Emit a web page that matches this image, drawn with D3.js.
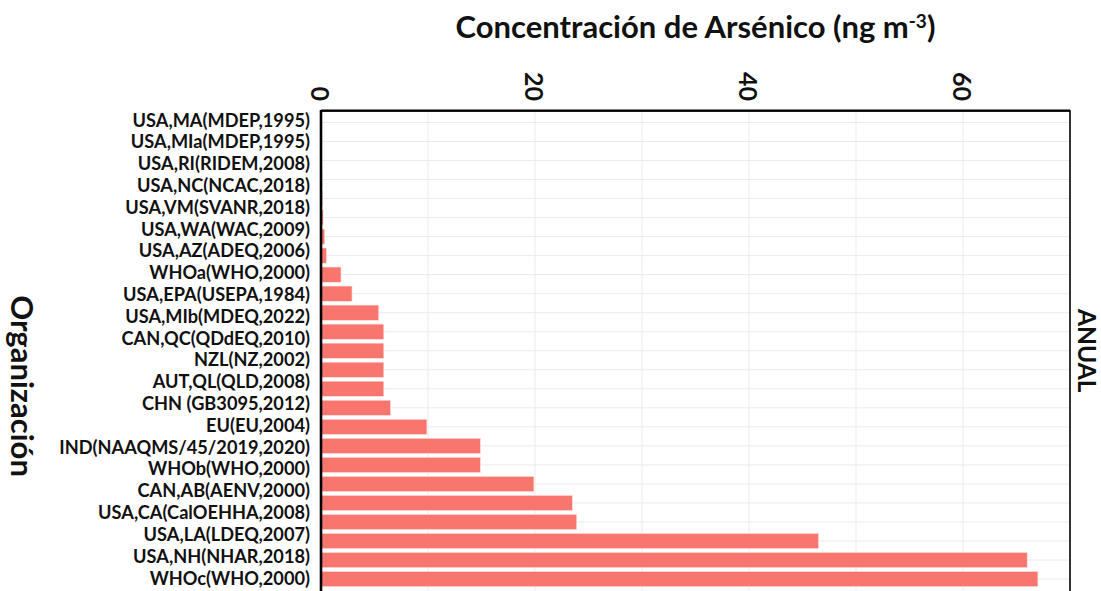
<!DOCTYPE html>
<html>
<head>
<meta charset="utf-8">
<script src="https://cdn.jsdelivr.net/npm/d3@7"></script>
<style>
  html, body { margin: 0; padding: 0; background: #fff; }
  svg { display: block; font-family: Lato, "Open Sans", sans-serif; }
  .grid line { stroke: #ebebeb; stroke-width: 1; }
  .lbl { font-weight: 700; fill: #111; }
</style>
</head>
<body>
<svg id="chart" width="1101" height="591"></svg>
<script>
// y-axis labels as printed (22 of them)
const orgLabels = [
  "USA,MA(MDEP,1995)", "USA,MIa(MDEP,1995)", "USA,RI(RIDEM,2008)",
  "USA,NC(NCAC,2018)", "USA,VM(SVANR,2018)", "USA,WA(WAC,2009)",
  "USA,AZ(ADEQ,2006)", "WHOa(WHO,2000)", "USA,EPA(USEPA,1984)",
  "USA,MIb(MDEQ,2022)", "CAN,QC(QDdEQ,2010)", "NZL(NZ,2002)",
  "AUT,QL(QLD,2008)", "CHN (GB3095,2012)", "EU(EU,2004)",
  "IND(NAAQMS/45/2019,2020)", "WHOb(WHO,2000)", "CAN,AB(AENV,2000)",
  "USA,CA(CalOEHHA,2008)", "USA,LA(LDEQ,2007)", "USA,NH(NHAR,2018)",
  "WHOc(WHO,2000)"
];
// bar rows as drawn in the panel (25 slots, top to bottom), ng m-3
const barValues = [
  0, 0, 0, 0.1, 0.14, 0.2, 0.35, 0.52, 1.87, 2.9, 5.4, 5.87, 5.87, 5.87,
  5.87, 6.5, 9.9, 14.9, 14.9, 19.9, 23.5, 23.9, 46.5, 66, 67
];
const xTicks = [0, 20, 40, 60];
const xGridVals = [10, 20, 30, 40, 50, 60];
const xMax = 70;
const facetLabel = "ANUAL";

const svg = d3.select("#chart");
const P = { left: 321, right: 1070, top: 111, bottom: 590.5 };

const x = d3.scaleLinear().domain([0, xMax]).range([P.left, P.right]);
const yBar = d3.scaleBand()
  .domain(d3.range(barValues.length))
  .range([P.top, P.bottom])
  .paddingInner(0.2)
  .paddingOuter(0.2);
const yLab = d3.scalePoint().domain(orgLabels).range([119.5, 577.5]);

// grid
const grid = svg.append("g").attr("class", "grid");
grid.selectAll("line.v").data(xGridVals).join("line")
  .attr("class", "v")
  .attr("x1", d => x(d)).attr("x2", d => x(d))
  .attr("y1", P.top).attr("y2", P.bottom);
grid.selectAll("line.h").data(d3.range(barValues.length)).join("line")
  .attr("class", "h")
  .attr("x1", P.left).attr("x2", P.right)
  .attr("y1", d => yBar(d) + yBar.bandwidth() / 2)
  .attr("y2", d => yBar(d) + yBar.bandwidth() / 2);

// bars
svg.append("g").selectAll("rect").data(barValues).join("rect")
  .attr("x", x(0))
  .attr("y", (d, i) => yBar(i))
  .attr("width", d => x(d) - x(0))
  .attr("height", yBar.bandwidth())
  .attr("fill", "#F8766D")
  .attr("stroke", "#fde3e0")
  .attr("stroke-width", 0.6);

// panel frame
svg.append("rect")
  .attr("x", P.left).attr("y", P.top)
  .attr("width", P.right - P.left).attr("height", P.bottom - P.top + 5)
  .attr("fill", "none").attr("stroke", "#000").attr("stroke-width", 1.6);
svg.append("line")
  .attr("x1", P.left).attr("x2", P.left)
  .attr("y1", P.top - 1).attr("y2", 591)
  .attr("stroke", "#000").attr("stroke-width", 2.6);
svg.append("line")
  .attr("x1", P.left).attr("x2", P.right)
  .attr("y1", P.top - 0.5).attr("y2", P.top - 0.5)
  .attr("stroke", "#000").attr("stroke-width", 2.2);

// y labels
svg.append("g").selectAll("text").data(orgLabels).join("text")
  .attr("class", "lbl")
  .attr("x", 310)
  .attr("y", d => yLab(d))
  .attr("text-anchor", "end")
  .attr("dominant-baseline", "central")
  .attr("font-size", 18.2)
  .text(d => d);

// top x tick labels, rotated
svg.append("g").selectAll("text").data(xTicks).join("text")
  .attr("class", "lbl")
  .attr("transform", d => `translate(${x(d)},101) rotate(90)`)
  .attr("text-anchor", "end")
  .attr("dominant-baseline", "central")
  .attr("font-size", 25)
  .text(d => d);

// x title
const title = svg.append("text")
  .attr("class", "lbl")
  .attr("x", (P.left + P.right) / 2)
  .attr("y", 38)
  .attr("text-anchor", "middle")
  .attr("font-size", 31);
title.append("tspan").text("Concentración de Arsénico (ng m");
title.append("tspan").attr("dy", -10).attr("font-size", 19).text("-3");
title.append("tspan").attr("dy", 10).text(")");

// y title
svg.append("text")
  .attr("class", "lbl")
  .attr("transform", "translate(23,386) rotate(90)")
  .attr("text-anchor", "middle")
  .attr("dominant-baseline", "central")
  .attr("font-size", 31)
  .text("Organización");

// facet strip
svg.append("text")
  .attr("class", "lbl")
  .attr("transform", `translate(1087,${(P.top + P.bottom) / 2}) rotate(90)`)
  .attr("text-anchor", "middle")
  .attr("dominant-baseline", "central")
  .attr("font-size", 24.5)
  .text(facetLabel);
</script>
</body>
</html>
